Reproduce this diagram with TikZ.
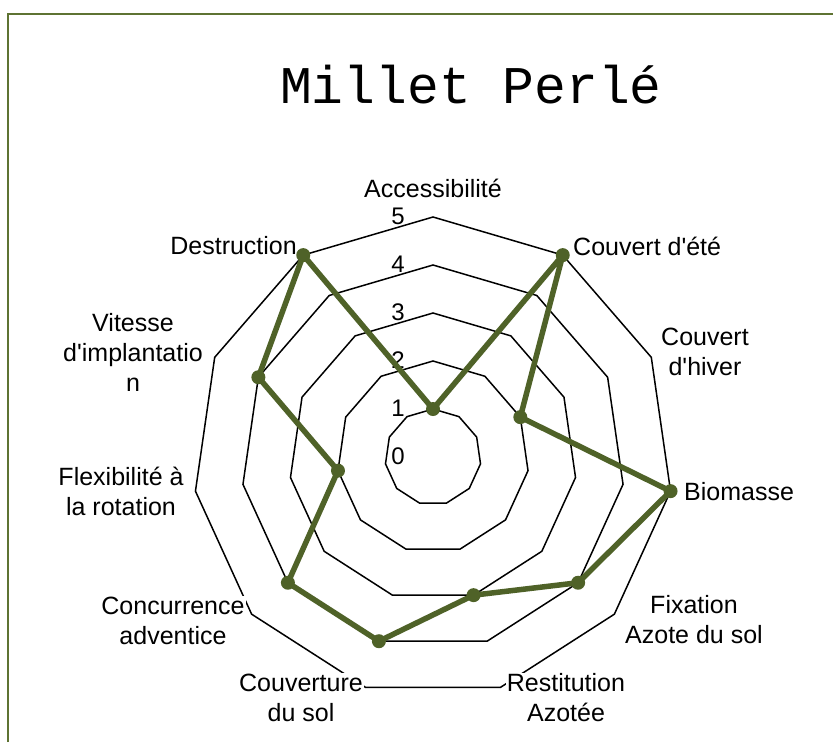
\documentclass[tikz,border=0pt]{standalone}
\usepackage{fontspec}
\setmainfont{Liberation Sans}[Ligatures=TeXOff]
\newfontfamily\titlefont{Liberation Mono}
\definecolor{serieGreen}{HTML}{4F6228}
\definecolor{frameGreen}{HTML}{5E7332}
\tikzset{
  gridline/.style={draw=black, line width=1.5pt, line join=miter},
  axislabel/.style={font=\fontsize{25}{30}\selectfont, fill=white, inner sep=1pt, align=center},
  levellabel/.style={font=\fontsize{24}{28}\selectfont, anchor=east, inner sep=1pt},
  serieline/.style={draw=serieGreen, line width=5.5pt, line join=round},
  seriedot/.style={fill=serieGreen},
}
\begin{document}
\begin{tikzpicture}[x=1pt,y=1pt]
\useasboundingbox (0,0) rectangle (833,-742);
\fill[white] (0,0) rectangle (833,-742);
\draw[frameGreen, line width=2pt] (8,-742) -- (8,-14) -- (833,-14);
\node[font=\titlefont\fontsize{53}{60}\selectfont] (title) at (471,-85) {Millet Perlé};
\begin{scope}[shift={(433,-457)}]
  \coordinate (O) at (0,0);
  \foreach \l in {1,...,5} {
    \draw[gridline] (90:{48*\l}) \foreach \k in {1,...,10} { -- ({90-\k*360/11}:{48*\l}) } -- cycle;
  }
  \foreach \l in {0,...,5} {
    \node[levellabel] (lv\l) at (-27,{48*\l+1}) {\l};
  }
  % data points
  \foreach \k/\v in {0/1,1/5,2/2,3/5,4/4,5/3,6/4,7/4,8/2,9/4,10/5} {
    \coordinate (p\k) at ({90-\k*360/11}:{48*\v});
  }
\end{scope}
% axis labels
\node[axislabel] (a0) at (433,-188) {Accessibilité};
\node[axislabel, anchor=west] (a1) at (572,-246) {Couvert d'été};
\node[axislabel] (a2) at (705,-352) {Couvert\\d'hiver};
\node[axislabel, anchor=west] (a3) at (683,-492) {Biomasse};
\node[axislabel] (a4) at (694,-620) {Fixation\\Azote du sol};
\node[axislabel] (a5) at (566,-698) {Restitution\\Azotée};
\node[axislabel] (a6) at (301,-698) {Couverture\\du sol};
\node[axislabel] (a7) at (173,-621) {Concurrence\\adventice};
\node[axislabel] (a8) at (121,-491) {Flexibilité à\\la rotation};
\node[axislabel] (a9) at (133,-352) {Vitesse\\d'implantatio\\n};
\node[axislabel, anchor=east] (a10) at (298,-246) {Destruction};
% series
\draw[serieline] (p0) -- (p1) -- (p2) -- (p3) -- (p4) -- (p5) -- (p6) -- (p7) -- (p8) -- (p9) -- (p10) -- cycle;
\foreach \k in {0,...,10} { \fill[seriedot] (p\k) circle (7); }
\end{tikzpicture}
\end{document}
